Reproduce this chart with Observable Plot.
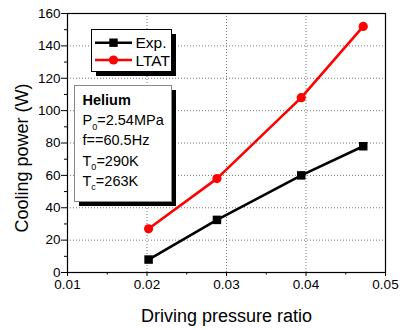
<!DOCTYPE html>
<html><head><meta charset="utf-8">
<script src="https://cdn.jsdelivr.net/npm/d3@7"></script>
<script src="https://cdn.jsdelivr.net/npm/@observablehq/plot@0.6"></script>
<style>body{margin:0;background:#fff} svg{display:block}</style>
</head><body><div id="chart"></div>
<script>
// Data
const ratios = [0.0202, 0.0288, 0.0394, 0.0472];
const expPower = [8, 32.5, 60, 78];
const ltatPower = [27, 58, 108, 152];
const seriesNames = ["Exp.", "LTAT"];
const xTicks = [0.01, 0.02, 0.03, 0.04, 0.05];
const xMinor = [0.015, 0.025, 0.035, 0.045];
const yTicks = [0, 20, 40, 60, 80, 100, 120, 140, 160];
const yMinor = [10, 30, 50, 70, 90, 110, 130, 150];
const xLabel = "Driving pressure ratio";
const yLabel = "Cooling power (W)";
const noteTitle = "Helium";
const noteLines = [["P", "0", "=2.54MPa"], ["f==60.5Hz", "", ""], ["T", "0", "=290K"], ["T", "c", "=263K"]];

const expData = ratios.map((r, i) => ({r, p: expPower[i]}));
const ltatData = ratios.map((r, i) => ({r, p: ltatPower[i]}));
const font = "'Liberation Sans', Arial, sans-serif";
const grid = {stroke: "#777", strokeOpacity: 1, strokeDasharray: "1,2"};

const chart = Plot.plot({
  width: 400, height: 330,
  marginLeft: 67, marginRight: 15, marginTop: 13, marginBottom: 58,
  style: {fontFamily: font, fontSize: "13.5px", color: "black", background: "white"},
  x: {domain: [0.01, 0.05]},
  y: {domain: [0, 160]},
  marks: [
    Plot.gridX([0.02, 0.03, 0.04], grid),
    Plot.gridY(yTicks.slice(1, -1), grid),
    Plot.axisX({ticks: xTicks, tickFormat: d => d.toFixed(2), tickSize: 4, tickPadding: 2.5, label: null, fontSize: 13.5}),
    Plot.axisX({ticks: xMinor, tickFormat: () => "", tickSize: 2.5, label: null}),
    Plot.axisY({ticks: yTicks, tickFormat: d => d, tickSize: 6, tickPadding: 1, label: null, fontSize: 13.5}),
    Plot.axisY({ticks: yMinor, tickFormat: () => "", tickSize: 3, label: null}),
    Plot.frame({stroke: "black", strokeWidth: 1.2}),
    Plot.line(expData, {x: "r", y: "p", stroke: "black", strokeWidth: 2.6}),
    Plot.dot(expData, {x: "r", y: "p", symbol: "square", r: 4.8, fill: "black", stroke: "none"}),
    Plot.line(ltatData, {x: "r", y: "p", stroke: "red", strokeWidth: 2.6}),
    Plot.dot(ltatData, {x: "r", y: "p", symbol: "circle", r: 4.6, fill: "red", stroke: "none"}),
    Plot.text([yLabel], {frameAnchor: "left", rotate: -90, dx: -45, dy: 15, textAnchor: "middle", lineAnchor: "middle", fontSize: 18}),
    Plot.text([xLabel], {frameAnchor: "bottom", dy: 44, textAnchor: "middle", lineAnchor: "middle", fontSize: 18})
  ]
});
document.getElementById("chart").appendChild(chart);

const svg = d3.select(chart);
// Legend box
const lg = svg.append("g").attr("font-family", font).attr("text-anchor", "start");
lg.append("rect").attr("x", 96).attr("y", 34).attr("width", 80).attr("height", 42).attr("fill", "black");
lg.append("rect").attr("x", 91.5).attr("y", 29.5).attr("width", 80).attr("height", 42).attr("fill", "white").attr("stroke", "black");
const items = [{name: seriesNames[0], color: "black", sym: "square", y: 42.7}, {name: seriesNames[1], color: "red", sym: "circle", y: 60}];
items.forEach(it => {
  lg.append("line").attr("x1", 95).attr("x2", 132).attr("y1", it.y).attr("y2", it.y).attr("stroke", it.color).attr("stroke-width", 2.6);
  if (it.sym === "square") lg.append("rect").attr("x", 113.5 - 4.2).attr("y", it.y - 4.2).attr("width", 8.4).attr("height", 8.4).attr("fill", it.color);
  else lg.append("circle").attr("cx", 113.5).attr("cy", it.y).attr("r", 4.6).attr("fill", it.color);
  lg.append("text").attr("x", 135.5).attr("y", it.y + 5.5).attr("font-size", 15.5).attr("fill", "black").text(it.name);
});

// Annotation box
const an = svg.append("g").attr("font-family", font).attr("text-anchor", "start");
an.append("rect").attr("x", 79).attr("y", 90).attr("width", 97).attr("height", 116).attr("fill", "black");
an.append("rect").attr("x", 74.5).attr("y", 85.5).attr("width", 97).attr("height", 116).attr("fill", "white").attr("stroke", "#888");
an.append("text").attr("x", 82.5).attr("y", 105).attr("font-size", 14.5).attr("font-weight", "bold").text(noteTitle);
noteLines.forEach((l, i) => {
  const t = an.append("text").attr("x", 82.5).attr("y", 125 + i * 20.3).attr("font-size", 14.5);
  t.append("tspan").text(l[0]);
  if (l[1]) {
    t.append("tspan").attr("font-size", 9).attr("dy", 4.5).text(l[1]);
    t.append("tspan").attr("dy", -4.5).text(l[2]);
  }
});
</script>
</body></html>
